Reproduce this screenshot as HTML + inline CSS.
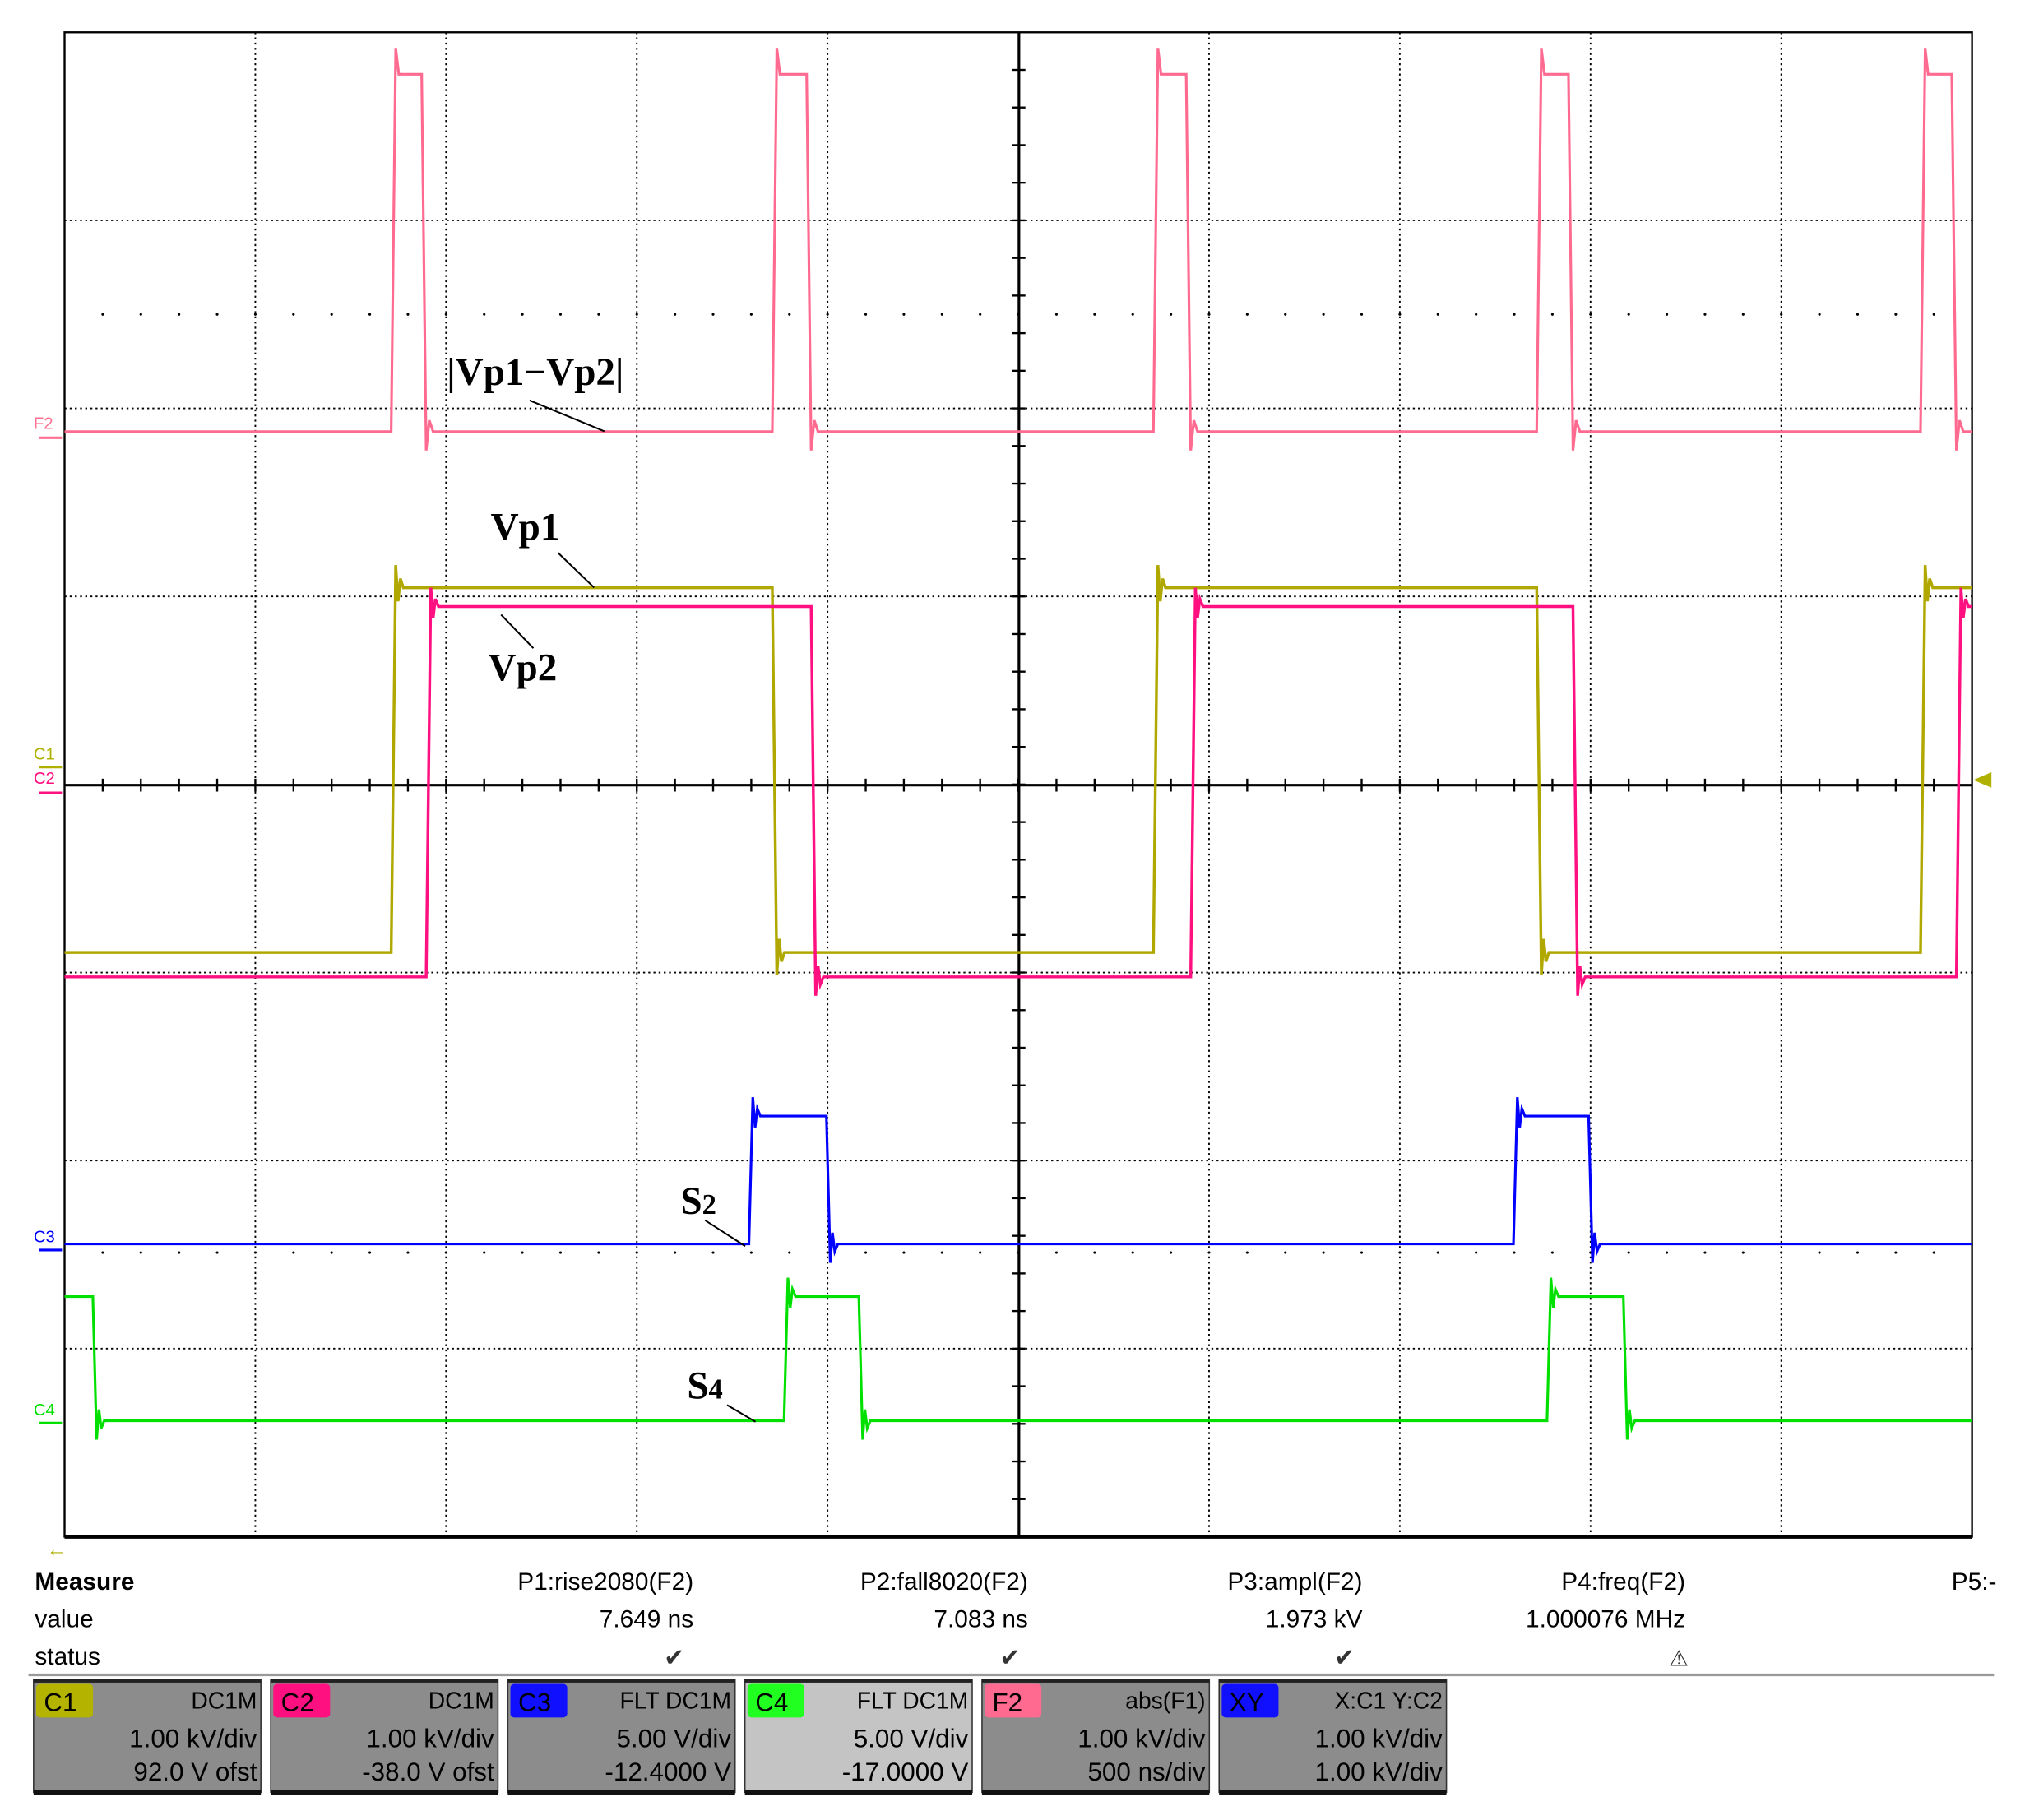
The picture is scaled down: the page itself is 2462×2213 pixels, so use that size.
<!DOCTYPE html>
<html><head><meta charset="utf-8"><style>
html,body{margin:0;padding:0;background:#fff;}
svg{display:block;}
</style></head><body>
<svg id="scope" width="2462" height="2213" viewBox="0 0 1568 1409.4" xmlns="http://www.w3.org/2000/svg" font-family="Liberation Sans, sans-serif">
<rect x="0" y="0" width="1568" height="1409.4" fill="#fff"/>
<g id="grid"></g>
<g id="traces"></g>
<g font-family="Liberation Serif, serif" font-weight="bold" fill="#000">
  <text x="346" y="298" font-size="30">|Vp1−Vp2|</text>
  <line x1="410" y1="310" x2="468" y2="334" stroke="#000" stroke-width="1.3"/>
  <text x="380" y="418" font-size="30">Vp1</text>
  <line x1="432" y1="428" x2="460" y2="455" stroke="#000" stroke-width="1.3"/>
  <text x="378" y="527" font-size="30">Vp2</text>
  <line x1="388" y1="476" x2="413" y2="502" stroke="#000" stroke-width="1.3"/>
  <text x="527" y="940" font-size="30">S<tspan font-size="22">2</tspan></text>
  <line x1="546" y1="945" x2="577" y2="965" stroke="#000" stroke-width="1.3"/>
  <text x="532" y="1083" font-size="30">S<tspan font-size="22">4</tspan></text>
  <line x1="563" y1="1088" x2="585" y2="1101" stroke="#000" stroke-width="1.3"/>
</g>
<g font-size="13">
  <text x="26" y="332" fill="#ff7090">F2</text><line x1="30" y1="339" x2="48" y2="339" stroke="#ff7090" stroke-width="2"/>
  <text x="26" y="588" fill="#b0b000">C1</text><line x1="30" y1="594" x2="48" y2="594" stroke="#b0b000" stroke-width="2"/>
  <text x="26" y="607" fill="#ff1080">C2</text><line x1="30" y1="614" x2="48" y2="614" stroke="#ff1080" stroke-width="2"/>
  <text x="26" y="962" fill="#0000ff">C3</text><line x1="30" y1="968" x2="48" y2="968" stroke="#0000ff" stroke-width="2"/>
  <text x="26" y="1096" fill="#00e000">C4</text><line x1="30" y1="1102" x2="48" y2="1102" stroke="#00e000" stroke-width="2"/>
  <polygon points="1528,604 1542,598 1542,610" fill="#b0b000"/>
  <text x="36" y="1205" fill="#b0b000" font-size="16">←</text>
</g>
<g font-size="19" fill="#000">
  <text x="27" y="1231" font-weight="bold">Measure</text>
  <text x="27" y="1260">value</text>
  <text x="27" y="1289">status</text>
  <g text-anchor="end">
    <text x="537" y="1231">P1:rise2080(F2)</text>
    <text x="796" y="1231">P2:fall8020(F2)</text>
    <text x="1055" y="1231">P3:ampl(F2)</text>
    <text x="1305" y="1231">P4:freq(F2)</text>
    <text x="1546" y="1231">P5:-</text>
    <text x="537" y="1260">7.649 ns</text>
    <text x="796" y="1260">7.083 ns</text>
    <text x="1055" y="1260">1.973 kV</text>
    <text x="1305" y="1260">1.000076 MHz</text>
  </g>
  <g text-anchor="middle" fill="#333">
    <text x="522" y="1290">✔</text><text x="782" y="1290">✔</text><text x="1041" y="1290">✔</text><text x="1300" y="1290" font-size="17">⚠</text>
  </g>
  <line x1="22" y1="1297" x2="1544" y2="1297" stroke="#999" stroke-width="2"/>
</g>
<g id="boxes" font-size="19"></g>
</svg>
<script>
// horizontal: 500 ns/div, 10 divs; vertical: 8 divs, values in divisions from center
const X0=50, X1=1527, Y0=25, Y1=1190;
const DX=(X1-X0)/10, DY=(Y1-Y0)/8;
const xs = t => X0 + t/500*DX;
const ys = d => 608 - d*DY;

// F2 |Vp1-Vp2| pulse edges (ns) and levels (div)
const f2Rise=[856,1855,2854,3859,4865];
const f2Fall=[948,1957,2952,3954,4959];
const f2Low=1.88, f2High=3.78, f2Peak=3.92;
// C1 (Vp1) edges and levels
const c1Rise=[856,2854,4865];
const c1Fall=[1855,3859];
const c1Low=-0.89, c1High=1.05;
// C2 (Vp2) edges and levels
const c2Rise=[948,2952,4959];
const c2Fall=[1957,3954];
const c2Low=-1.02, c2High=0.95;
// C3 (S2) pulses
const c3Rise=[1794,3798];
const c3Fall=[1997,3995];
const c3Low=-2.44, c3High=-1.76;
// C4 (S4) pulses (starts high, falls at 74 ns)
const c4Rise=[1886,3886];
const c4Fall=[74,2082,4086];
const c4Low=-3.38, c4High=-2.72;

const NS='http://www.w3.org/2000/svg';
function mk(tag,attrs,parent){const e=document.createElementNS(NS,tag);for(const k in attrs)e.setAttribute(k,attrs[k]);parent.appendChild(e);return e;}

// graticule
const g=document.getElementById('grid');
for(let i=1;i<10;i++){ if(i===5)continue;
  const l=mk('line',{x1:X0+i*DX,y1:Y0,x2:X0+i*DX,y2:Y1,stroke:'#000','stroke-width':1.2,'stroke-dasharray':'1.5 2.5'},g);
  
  
}
for(let j=1;j<8;j++){ if(j===4)continue;
  const l=mk('line',{x1:X0,y1:Y0+j*DY,x2:X1,y2:Y0+j*DY,stroke:'#000','stroke-width':1.2,'stroke-dasharray':'1.5 2.5'},g);
  
  
}
[Y0+1.5*DY, 970].forEach(y=>{
  for(let i=1;i<50;i++){ mk('circle',{cx:X0+i*DX/5,cy:y,r:1,fill:'#000'},g); }
});
mk('line',{x1:X0,y1:608,x2:X1,y2:608,stroke:'#000','stroke-width':2},g);
mk('line',{x1:789,y1:Y0,x2:789,y2:Y1,stroke:'#000','stroke-width':2},g);
for(let i=1;i<50;i++){ const x=X0+i*DX/5; mk('line',{x1:x,y1:603,x2:x,y2:613,stroke:'#000','stroke-width':1.5},g); }
for(let j=1;j<40;j++){ const y=Y0+j*DY/5; mk('line',{x1:784,y1:y,x2:794,y2:y,stroke:'#000','stroke-width':1.5},g); }
mk('rect',{x:X0,y:Y0,width:X1-X0,height:Y1-Y0,fill:'none',stroke:'#000','stroke-width':1.5},g);
mk('line',{x1:X0,y1:Y1,x2:X1,y2:Y1,stroke:'#000','stroke-width':3},g);

// traces
const tg=document.getElementById('traces');
function squarePts(rises,falls,low,high,startHigh,ring,rt){
  const ev=[];rises.forEach(t=>ev.push([t,1]));falls.forEach(t=>ev.push([t,0]));ev.sort((a,b)=>a[0]-b[0]);
  let pts=[[xs(0),ys(startHigh?high:low)]];
  ev.forEach(([t,up])=>{
    const from=up?low:high,to=up?high:low,sgn=up?1:-1;
    pts.push([xs(t),ys(from)]);
    pts.push([xs(t+rt),ys(to+sgn*ring)]);
    pts.push([xs(t+rt+6),ys(to-sgn*ring*0.6)]);
    pts.push([xs(t+rt+12),ys(to+sgn*ring*0.4)]);
    pts.push([xs(t+rt+20),ys(to)]);
  });
  pts.push([xs(5000),pts[pts.length-1][1]]);
  return pts.map(p=>p[0].toFixed(1)+','+p[1].toFixed(1)).join(' ');
}
function pulsePts(rises,falls,low,high,peak,rt,ring){
  let pts=[[xs(0),ys(low)]];
  rises.forEach((t,i)=>{
    pts.push([xs(t),ys(low)]);pts.push([xs(t+rt),ys(peak)]);pts.push([xs(t+rt+8),ys(high)]);
    pts.push([xs(falls[i]-rt),ys(high)]);pts.push([xs(falls[i]),ys(low-ring)]);
    pts.push([xs(falls[i]+8),ys(low+ring*0.6)]);pts.push([xs(falls[i]+18),ys(low)]);
  });
  pts.push([xs(5000),ys(low)]);
  return pts.map(p=>p[0].toFixed(1)+','+p[1].toFixed(1)).join(' ');
}
let p;
p=mk('polyline',{points:pulsePts(f2Rise,f2Fall,f2Low,f2High,f2Peak,12,0.1),fill:'none',stroke:'#ff6a90','stroke-width':2},tg);


p=mk('polyline',{points:squarePts(c1Rise,c1Fall,c1Low,c1High,false,0.12,12),fill:'none',stroke:'#b0a800','stroke-width':2.2},tg);


p=mk('polyline',{points:squarePts(c2Rise,c2Fall,c2Low,c2High,false,0.1,12),fill:'none',stroke:'#ff1080','stroke-width':2.2},tg);


p=mk('polyline',{points:squarePts(c3Rise,c3Fall,c3Low,c3High,false,0.1,10),fill:'none',stroke:'#0000ff','stroke-width':2},tg);


p=mk('polyline',{points:squarePts(c4Rise,c4Fall,c4Low,c4High,true,0.1,10),fill:'none',stroke:'#00e000','stroke-width':2},tg);



// channel descriptor boxes
const boxes=[
 ['C1','#b4b400','DC1M','1.00 kV/div','92.0 V ofst','#8c8c8c'],
 ['C2','#ff1080','DC1M','1.00 kV/div','-38.0 V ofst','#8c8c8c'],
 ['C3','#1010ff','FLT  DC1M','5.00 V/div','-12.4000 V','#8c8c8c'],
 ['C4','#20ff20','FLT  DC1M','5.00 V/div','-17.0000 V','#c4c4c4'],
 ['F2','#ff6a90','abs(F1)','1.00 kV/div','500 ns/div','#8c8c8c'],
 ['XY','#1010ff','X:C1  Y:C2','1.00 kV/div','1.00 kV/div','#8c8c8c']];
const bg=document.getElementById('boxes');
boxes.forEach((b,i)=>{
  const x=26+i*183.6, w=176;
  const grp=mk('g',{},bg);
  
  
  mk('rect',{x:x,y:1301,width:w,height:87,fill:b[5],stroke:'#333','stroke-width':1},grp);
  mk('rect',{x:x,y:1386,width:w,height:4,fill:'#111'},grp);
  mk('rect',{x:x,y:1300,width:w,height:3,fill:'#222'},grp);
  mk('rect',{x:x+2,y:1304,width:44,height:26,rx:3,fill:b[1]},grp);
  const t=mk('text',{x:x+8,y:1325,'font-size':20,fill:'#000'},grp);t.textContent=b[0];
  [[b[2],1323],[b[3],1353],[b[4],1379]].forEach(([s,y])=>{const e=mk('text',{x:x+w-3,y:y,'text-anchor':'end',fill:'#000','font-size':y===1323?18:20},grp);e.textContent=s;});
});
</script>
</body></html>
